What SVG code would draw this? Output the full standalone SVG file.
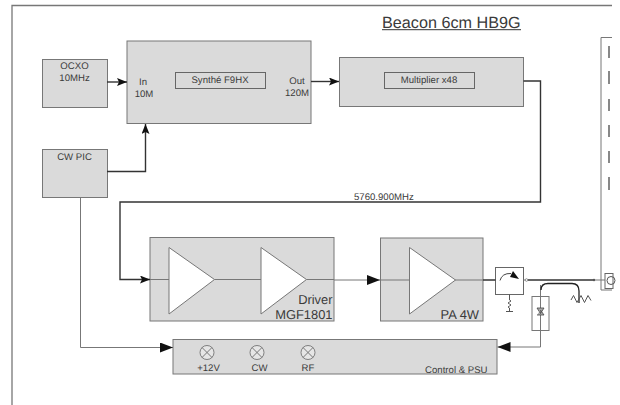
<svg xmlns="http://www.w3.org/2000/svg" width="620" height="405" viewBox="0 0 620 405">
<style>
text{font-family:"Liberation Sans",Arial,sans-serif;fill:#3a3a3a;font-size:9.600px;text-rendering:geometricPrecision}
.m{text-anchor:middle}
.e{text-anchor:end}
.big{font-size:12.900px}
.box{fill:#dadada;stroke:#777;stroke-width:1}
.inner{fill:#dadada;stroke:#666;stroke-width:1}
.tri{fill:#fff;stroke:#777;stroke-width:1}
.w{fill:none;stroke:#333;stroke-width:1.400}
.t{fill:none;stroke:#777;stroke-width:1}
.lamp{fill:#e6e6e6;stroke:#666;stroke-width:.8}
</style>
<defs>
<marker id="a" markerUnits="userSpaceOnUse" markerWidth="11" markerHeight="8" refX="10" refY="4" orient="auto"><path d="M0 0L10 4L0 8L2 4Z" fill="#111"/></marker>
<marker id="b" markerUnits="userSpaceOnUse" markerWidth="14" markerHeight="10" refX="13" refY="5" orient="auto"><path d="M0 0L13 5L0 10Z" fill="#111"/></marker>
</defs>
<rect width="620" height="405" fill="#fff"/>
<path d="M12 405V5.500H612" fill="none" stroke="#777" stroke-width="1.300"/>
<g id="title"><text x="382" y="27.500" style="font-size:16.200px">Beacon 6cm HB9G</text><path d="M382 29.700H521" stroke="#333" stroke-width="1"/></g>
<g id="ocxo"><rect class="box" x="42.500" y="59.500" width="65" height="48"/><text class="m" x="74.500" y="69">OCXO</text><text class="m" x="74.500" y="81">10MHz</text></g>
<g id="cwpic"><rect class="box" x="42.500" y="149.500" width="65" height="48"/><text class="m" x="74.500" y="159.500">CW PIC</text></g>
<g id="synth"><rect class="box" x="127" y="41" width="184" height="82.500"/><rect class="inner" x="175.500" y="72.500" width="90" height="16"/><text class="m" x="220" y="83">Synthé F9HX</text><text class="m" x="143" y="85">In</text><text class="m" x="144" y="97">10M</text><text class="m" x="297" y="84">Out</text><text class="m" x="297" y="96">120M</text></g>
<g id="multiplier"><rect class="box" x="339.500" y="57.500" width="184" height="49"/><rect class="inner" x="384.500" y="72.500" width="90" height="16"/><text class="m" x="429" y="83">Multiplier x48</text></g>
<g id="driver"><rect class="box" x="150" y="237.500" width="184" height="83.500"/><path class="t" d="M150 279.500H169M214.500 279.500H261"/><path class="tri" d="M169 247.500L214.500 279.500L169 314Z"/><path class="tri" d="M261 247.500L306.500 279.500L261 314Z"/><path class="t" d="M306.500 279.500H334"/><text class="e big" x="332.500" y="304">Driver</text><text class="e big" x="332.500" y="319">MGF1801</text></g>
<g id="pa"><rect class="box" x="380.500" y="238" width="102.500" height="83"/><path class="t" d="M380.500 280H409.500M455 280H483"/><path class="tri" d="M409.500 247.500L455.500 280L409.500 314Z"/><text class="e big" x="479" y="318.500">PA 4W</text></g>
<g id="control"><rect class="box" x="173" y="339.500" width="324" height="34.500"/>
<g id="lamp12"><circle class="lamp" cx="207" cy="352.500" r="7"/><path class="t" d="M202 347.500L212 357.500M212 347.500L202 357.500"/><text class="m" x="208.500" y="371">+12V</text></g>
<g id="lampcw"><circle class="lamp" cx="257" cy="352.500" r="7"/><path class="t" d="M252 347.500L262 357.500M262 347.500L252 357.500"/><text class="m" x="259.500" y="371">CW</text></g>
<g id="lamprf"><circle class="lamp" cx="308" cy="352.500" r="7"/><path class="t" d="M303 347.500L313 357.500M313 347.500L303 357.500"/><text class="m" x="308" y="371">RF</text></g>
<text class="e" x="487.500" y="373">Control &amp; PSU</text></g>
<g id="circulator"><rect x="495.500" y="267.500" width="28" height="27" fill="#fff" stroke="#666"/><path d="M500 280.500Q502 273 511 273.500" fill="none" stroke="#444"/><path d="M513 271L519 279L510 277Z" fill="#111"/><path d="M509.500 294.500V300q3 1 0 2q-3 1 0 2q3 1 0 2q-3 1 0 2v4M506 311.500H513" fill="none" stroke="#555"/></g>
<g id="coupler"><path class="t" d="M540.500 285V347"/><rect x="532" y="296.500" width="17" height="34" fill="#fff" stroke="#777"/><path class="t" d="M540.500 296.500V330.500"/><path d="M537 308H544L540.500 313.500ZM537 315H544L540.500 310" fill="#aaa" stroke="#444" stroke-width=".8"/><path d="M541 290Q541 283.500 548 283.500H572Q579 283.500 579 291V303" fill="none" stroke="#222" stroke-width="1.300"/><path d="M571 300l2.500-4.500l3.500 7l4-7l3.500 7l3.500-7l3 5" fill="none" stroke="#555"/></g>
<g id="antenna"><path class="t" d="M601 37.500H612M601 37.500V290H612"/><path d="M609 46V58M609 71V84M609 99V111M609 125V137M609 151V163M609 177V190" stroke="#888" stroke-width="2" fill="none"/><rect x="605" y="273.500" width="8" height="15" fill="#fff" stroke="#666"/><circle cx="611" cy="280.500" r="4" fill="none" stroke="#555"/></g>
<g id="connectors">
<path class="w" d="M107 82H127" marker-end="url(#a)"/>
<path class="w" d="M107 171.500H145.500V124" marker-end="url(#a)"/>
<path class="w" d="M311 81.500H339" marker-end="url(#a)"/>
<path class="w" d="M523.500 81H540.500V202H120V279.500H150" marker-end="url(#a)"/>
<path class="t" d="M334 280H380" marker-end="url(#b)"/>
<path class="t" d="M80.500 197.500V347.500H173" marker-end="url(#b)"/>
<path class="t" d="M540.500 347H497.500" marker-end="url(#b)"/>
<path d="M483 280H495.500M528 280H594" fill="none" stroke="#333" stroke-width="1.300"/>
<path d="M523.500 280H525M594 280H605" fill="none" stroke="#777"/>
<circle cx="526.500" cy="280" r="1.300" fill="#fff" stroke="#666" stroke-width=".7"/>
<circle cx="594" cy="280" r="1.200" fill="#555"/>
</g>
<text x="354" y="199.500">5760.900MHz</text>
</svg>
